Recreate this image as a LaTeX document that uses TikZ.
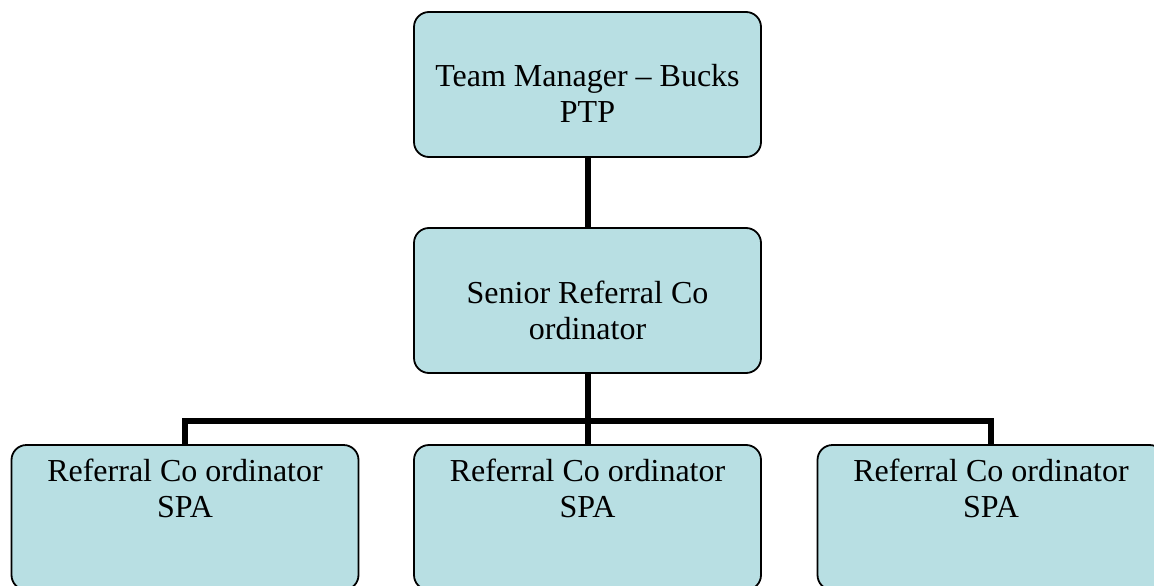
\documentclass[tikz,border=0pt]{standalone}
\usepackage{fontspec}
\setmainfont{Liberation Serif}
\definecolor{boxfill}{HTML}{B8DFE3}
\tikzset{
  x=1pt, y=-1pt,
  orgbox/.style={draw=black, line width=1.8pt, fill=boxfill, rounded corners=15pt,
    minimum width=347pt, minimum height=145pt, inner sep=0pt},
  conn/.style={draw=black, line width=6pt, line join=miter},
  toptext/.style={anchor=north, align=center, font=\fontsize{32}{36}\selectfont, inner sep=0pt}
}
\begin{document}
\begin{tikzpicture}
\useasboundingbox (0,0) rectangle (1154,586);
\clip (0,0) rectangle (1154,586);
\coordinate (bar) at (587.5,421);
\node[orgbox, label={[toptext, yshift=-53pt]north:Team Manager – Bucks\\PTP}] (top) at (587.5,84.5) {};
\node[orgbox, label={[toptext, yshift=-54pt]north:Senior Referral Co\\ordinator}] (mid) at (587.5,300.5) {};
\node[orgbox, label={[toptext, yshift=-15pt]north:Referral Co ordinator\\SPA}] (b1) at (185,517.5) {};
\node[orgbox, label={[toptext, yshift=-15pt]north:Referral Co ordinator\\SPA}] (b2) at (587.5,517.5) {};
\node[orgbox, label={[toptext, yshift=-15pt]north:Referral Co ordinator\\SPA}] (b3) at (991,517.5) {};
\draw[conn] (top.south) -- (mid.north);
\draw[conn] (mid.south) -- (b2.north);
\draw[conn] (b1.north) -- (b1.north |- bar) -- (b3.north |- bar) -- (b3.north);
\end{tikzpicture}
\end{document}
